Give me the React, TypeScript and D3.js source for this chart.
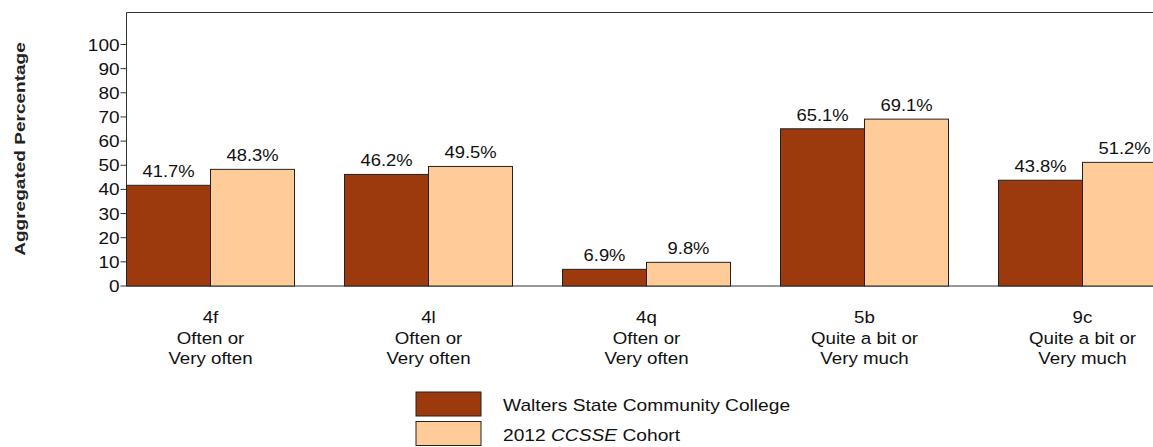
import React from "react";
import * as d3 from "d3";

const categories = ["4f", "4l", "4q", "5b", "9c"];
const categoryLines = [
  ["4f", "Often or", "Very often"],
  ["4l", "Often or", "Very often"],
  ["4q", "Often or", "Very often"],
  ["5b", "Quite a bit or", "Very much"],
  ["9c", "Quite a bit or", "Very much"],
];
const collegeValues = [41.7, 46.2, 6.9, 65.1, 43.8];
const cohortValues = [48.3, 49.5, 9.8, 69.1, 51.2];
const yTicks = [0, 10, 20, 30, 40, 50, 60, 70, 80, 90, 100];
const seriesNames = ["Walters State Community College", "2012 CCSSE Cohort"];
const colors = ["#9C3A0E", "#FFCC99"];

export default function App() {
  const W = 1153;
  const H = 447;
  const left = 126.5;
  const top = 12.5;
  const bottom = 286;
  const right = 1166.5;
  const font = "'Liberation Sans', Arial, sans-serif";

  const x0 = d3.scaleBand<string>().domain(categories).range([left, right]).paddingInner(50 / 218).paddingOuter(0);
  const x1 = d3.scaleBand<number>().domain([0, 1]).range([0, x0.bandwidth()]);
  const y = d3.scaleLinear().domain([0, 100]).range([bottom, 44.5]);

  const series = [collegeValues, cohortValues];

  return (
    <svg width={W} height={H} style={{ position: "absolute", left: 0, top: 0, background: "#fff" }} fontFamily={font}>
      {/* plot frame */}
      <line x1={left} x2={W} y1={top} y2={top} stroke="#333" strokeWidth={1} />
      <line x1={left} x2={left} y1={top} y2={bottom} stroke="#333" strokeWidth={1} />
      <line x1={left} x2={W} y1={bottom} y2={bottom} stroke="#333" strokeWidth={1} />
      {/* y ticks */}
      {yTicks.map((t) => (
        <g key={t}>
          <line x1={left - 6} x2={left} y1={y(t)} y2={y(t)} stroke="#333" />
          <text
            transform={`translate(${left - 7},${y(t) + 6}) scale(1.15,1)`}
            textAnchor="end"
            fontSize={16.5}
            fill="#111"
          >
            {t}
          </text>
        </g>
      ))}
      <text
        transform={`translate(25,${149}) rotate(-90) scale(1.36,1)`}
        textAnchor="middle"
        fontSize={14}
        fontWeight="bold"
        fill="#222"
      >
        Aggregated Percentage
      </text>
      {/* bars */}
      {categories.map((c, i) => (
        <g key={c} transform={`translate(${x0(c)},0)`}>
          {series.map((vals, s) => (
            <g key={s}>
              <rect
                x={x1(s)!}
                y={y(vals[i])}
                width={x1.bandwidth()}
                height={bottom - y(vals[i])}
                fill={colors[s]}
                stroke="#222"
                strokeWidth={1}
              />
              <text
                transform={`translate(${x1(s)! + x1.bandwidth() / 2},${y(vals[i]) - 8}) scale(1.15,1)`}
                textAnchor="middle"
                fontSize={16}
                fill="#111"
              >
                {vals[i].toFixed(1)}%
              </text>
            </g>
          ))}
          {categoryLines[i].map((ln, k) => (
            <text
              key={k}
              transform={`translate(${x0.bandwidth() / 2},${323 + k * 20.5}) scale(1.1,1)`}
              textAnchor="middle"
              fontSize={17}
              fill="#111"
            >
              {ln}
            </text>
          ))}
        </g>
      ))}
      {/* legend */}
      {seriesNames.map((n, s) => (
        <g key={n} transform={`translate(416,${392 + s * 29.5})`}>
          <rect x={0} y={0} width={65} height={24} fill={colors[s]} stroke="#222" />
          <text transform={`translate(87,19) scale(1.2,1)`} fontSize={16} fill="#111">
            {s === 0 ? (
              n
            ) : (
              <>
                2012 <tspan fontStyle="italic">CCSSE</tspan> Cohort
              </>
            )}
          </text>
        </g>
      ))}
    </svg>
  );
}
